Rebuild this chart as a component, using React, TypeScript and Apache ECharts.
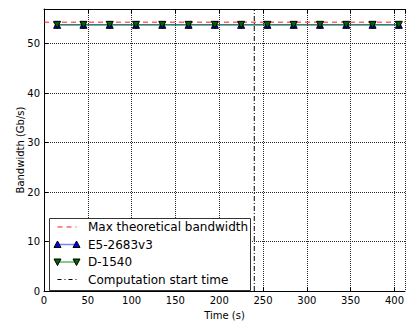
import React, { useEffect, useRef } from "react";
import * as echarts from "echarts";

const TIMES = [15, 45, 75, 105, 135, 165, 195, 225, 255, 285, 315, 345, 375, 405];
const E5_VALUES = [53.8, 53.8, 53.8, 53.8, 53.8, 53.8, 53.8, 53.8, 53.8, 53.8, 53.8, 53.8, 53.8, 53.8];
const D1540_VALUES = [53.8, 53.8, 53.8, 53.8, 53.8, 53.8, 53.8, 53.8, 53.8, 53.8, 53.8, 53.8, 53.8, 53.8];
const MAX_BANDWIDTH = 54.3;
const COMPUTATION_START = 240;
const X_MIN = 0;
const X_MAX = 412;
const Y_MIN = 0;
const Y_MAX = 57;
const LEGEND_LABELS = ["Max theoretical bandwidth", "E5-2683v3", "D-1540", "Computation start time"];

const FONT = "DejaVu Sans";

export default function App() {
  const ref = useRef<HTMLDivElement>(null);
  useEffect(() => {
    if (!ref.current) return;
    const chart = echarts.init(ref.current, null, { renderer: "svg" });

    const lx1 = 57.5, lx2 = 76.5, tx = 88;
    const rows = [227, 244.5, 262, 279.5];
    const tri = (x: number, y: number, up: boolean, fill: string) => ({
      type: "polygon",
      z: 102,
      shape: {
        points: up
          ? [[x - 3.5, y + 3], [x + 3.5, y + 3], [x, y - 3.5]]
          : [[x - 3.5, y - 3], [x + 3.5, y - 3], [x, y + 3.5]],
      },
      style: { fill, stroke: "#000", lineWidth: 1 },
    });

    const graphics: any[] = [
      {
        type: "rect",
        z: 100,
        shape: { x: 49.5, y: 218.5, width: 201, height: 72 },
        style: { fill: "#fff", stroke: "#333", lineWidth: 1 },
      },
      {
        type: "line",
        z: 101,
        shape: { x1: lx1, y1: rows[0], x2: lx2, y2: rows[0] },
        style: { stroke: "rgba(255,0,0,0.6)", lineWidth: 1.5, lineDash: [5, 4] },
      },
      {
        type: "line",
        z: 101,
        shape: { x1: lx1, y1: rows[1], x2: lx2, y2: rows[1] },
        style: { stroke: "rgba(0,0,255,0.5)", lineWidth: 1.5 },
      },
      tri(lx1, rows[1], true, "#0000ee"),
      tri(lx2, rows[1], true, "#0000ee"),
      {
        type: "line",
        z: 101,
        shape: { x1: lx1, y1: rows[2], x2: lx2, y2: rows[2] },
        style: { stroke: "rgba(0,128,0,0.6)", lineWidth: 1.5 },
      },
      tri(lx1, rows[2], false, "#006400"),
      tri(lx2, rows[2], false, "#006400"),
      {
        type: "line",
        z: 101,
        shape: { x1: lx1, y1: rows[3], x2: lx2, y2: rows[3] },
        style: { stroke: "#000", lineWidth: 1, lineDash: [4, 3, 1, 3] },
      },
      ...LEGEND_LABELS.map((t, i) => ({
        type: "text",
        z: 101,
        x: tx,
        y: rows[i],
        style: {
          text: t,
          fontFamily: FONT,
          fontSize: 12,
          fill: "#000",
          verticalAlign: "middle",
          align: "left",
        },
      })),
    ];

    const gridLine = { show: true, lineStyle: { color: "#000", type: "dotted", width: 1, opacity: 0.85 } };

    chart.setOption({
      animation: false,
      backgroundColor: "#fff",
      grid: { left: 44, right: 0, top: 9, bottom: 29, containLabel: false },
      xAxis: [
        {
          type: "value",
          min: X_MIN,
          max: X_MAX,
          interval: 50,
          name: "Time (s)",
          nameLocation: "middle",
          nameGap: 24,
          nameMoveOverlap: false,
          nameTextStyle: { fontFamily: FONT, fontSize: 10, color: "#000", verticalAlign: "middle" },
          axisLine: { show: true, lineStyle: { color: "#000", width: 1 } },
          axisTick: { show: true, inside: true, length: 4, lineStyle: { color: "#000" } },
          axisLabel: {
            fontFamily: FONT,
            fontSize: 10,
            color: "#000",
            margin: 4,
            showMaxLabel: false,
            formatter: (v: number) => (v % 50 === 0 && v <= 400 ? String(v) : ""),
          },
          splitLine: gridLine,
        },
        {
          type: "value",
          position: "top",
          min: X_MIN,
          max: X_MAX,
          interval: 50,
          axisLine: { show: true, lineStyle: { color: "#000", width: 1 } },
          axisTick: { show: true, inside: true, length: 4, lineStyle: { color: "#000" } },
          axisLabel: { show: false },
          splitLine: { show: false },
        },
      ],
      yAxis: {
        type: "value",
        min: Y_MIN,
        max: Y_MAX,
        interval: 10,
        name: "Bandwidth (Gb/s)",
        nameLocation: "middle",
        nameGap: 24,
        nameRotate: 90,
        nameMoveOverlap: false,
        nameTextStyle: { fontFamily: FONT, fontSize: 10, color: "#000", verticalAlign: "middle" },
        axisLine: { show: true, lineStyle: { color: "#000", width: 1 } },
        axisTick: { show: true, inside: true, length: 4, lineStyle: { color: "#000" } },
        axisLabel: {
          fontFamily: FONT,
          fontSize: 10,
          color: "#000",
          margin: 4,
          showMaxLabel: false,
          formatter: (v: number) => (v % 10 === 0 ? String(v) : ""),
        },
        splitLine: gridLine,
      },
      series: [
        {
          name: LEGEND_LABELS[0],
          type: "line",
          data: [[X_MIN, MAX_BANDWIDTH], [X_MAX, MAX_BANDWIDTH]],
          showSymbol: false,
          symbol: "none",
          lineStyle: { color: "rgba(255,0,0,0.6)", width: 1.5, type: [5, 4] },
          z: 3,
        },
        {
          name: LEGEND_LABELS[1],
          type: "line",
          data: TIMES.map((t, i) => [t, E5_VALUES[i]]),
          symbol: "triangle",
          symbolSize: 7,
          lineStyle: { color: "rgba(0,0,255,0.5)", width: 1.5 },
          itemStyle: { color: "#0000ee", borderColor: "#000", borderWidth: 1 },
          z: 4,
        },
        {
          name: LEGEND_LABELS[2],
          type: "line",
          data: TIMES.map((t, i) => [t, D1540_VALUES[i]]),
          symbol: "triangle",
          symbolRotate: 180,
          symbolSize: 7,
          lineStyle: { color: "rgba(0,128,0,0.6)", width: 1.5 },
          itemStyle: { color: "#006400", borderColor: "#000", borderWidth: 1 },
          z: 5,
        },
        {
          name: LEGEND_LABELS[3],
          type: "line",
          data: [[COMPUTATION_START, Y_MIN], [COMPUTATION_START, Y_MAX]],
          symbol: "none",
          lineStyle: { color: "#000", width: 1, type: [5, 2, 1, 2] },
          z: 6,
        },
      ],
      graphic: graphics,
    });
    return () => chart.dispose();
  }, []);
  return (
    <div
      ref={ref}
      style={{ position: "fixed", left: 0, top: 0, width: 407, height: 325, background: "#fff" }}
    />
  );
}
